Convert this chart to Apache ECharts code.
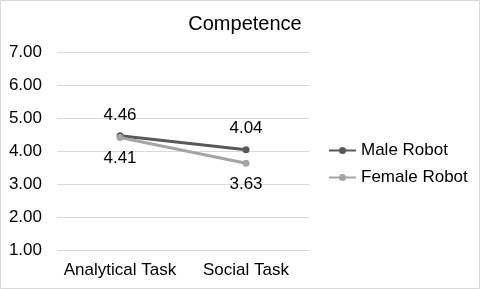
<!DOCTYPE html>
<html><head><meta charset="utf-8">
<script src="https://cdn.jsdelivr.net/npm/echarts@6/dist/echarts.min.js"></script>
<style>html,body{margin:0;padding:0;background:#fff}#c{width:480px;height:289px}</style>
</head><body><div id="c"></div>
<script>
const categories = ["Analytical Task", "Social Task"];
const maleRobot = [4.46, 4.04];
const femaleRobot = [4.41, 3.63];
const chart = echarts.init(document.getElementById('c'), null, {renderer: 'canvas'});
const font = 'Arial, "Liberation Sans", sans-serif';
chart.setOption({
  animation: false,
  backgroundColor: '#fff',
  title: {text: 'Competence', left: 240, top: 9, textAlign: 'center',
    textStyle: {fontFamily: font, fontSize: 20, fontWeight: 'normal', color: '#000'}},
  graphic: [{type: 'rect', shape: {x: 0.5, y: 0.5, width: 479, height: 288},
    style: {fill: 'none', stroke: '#d9d9d9', lineWidth: 1}, silent: true}],
  legend: {orient: 'vertical', left: 323, top: 137, itemWidth: 27, itemHeight: 9, itemGap: 10,
    textStyle: {fontFamily: font, fontSize: 17, lineHeight: 17, color: '#000'},
    data: ['Male Robot', 'Female Robot']},
  grid: {left: 57, right: 171, top: 52, bottom: 39},
  xAxis: {type: 'category', data: categories, boundaryGap: true,
    axisLine: {show: false}, axisTick: {show: false},
    axisLabel: {interval: 0, hideOverlap: false, fontFamily: font, fontSize: 17, color: '#000', margin: 12}},
  yAxis: {type: 'value', min: 1, max: 7, interval: 1,
    axisLabel: {fontFamily: font, fontSize: 17, color: '#000', margin: 15,
      formatter: v => v.toFixed(2)},
    splitLine: {lineStyle: {color: '#d9d9d9', width: 1}},
    axisLine: {show: false}, axisTick: {show: false}},
  series: [
    {name: 'Male Robot', type: 'line', data: maleRobot, symbol: 'circle', symbolSize: 7,
      itemStyle: {color: '#595959'}, lineStyle: {color: '#595959', width: 3},
      label: {show: true, position: 'top', distance: 9, fontFamily: font, fontSize: 17, color: '#000',
        formatter: p => p.value.toFixed(2)}},
    {name: 'Female Robot', type: 'line', data: femaleRobot, symbol: 'circle', symbolSize: 7,
      itemStyle: {color: '#a5a5a5'}, lineStyle: {color: '#a5a5a5', width: 3},
      label: {show: true, position: 'bottom', distance: 9, fontFamily: font, fontSize: 17, color: '#000',
        formatter: p => p.value.toFixed(2)}}
  ]
});
</script></body></html>
